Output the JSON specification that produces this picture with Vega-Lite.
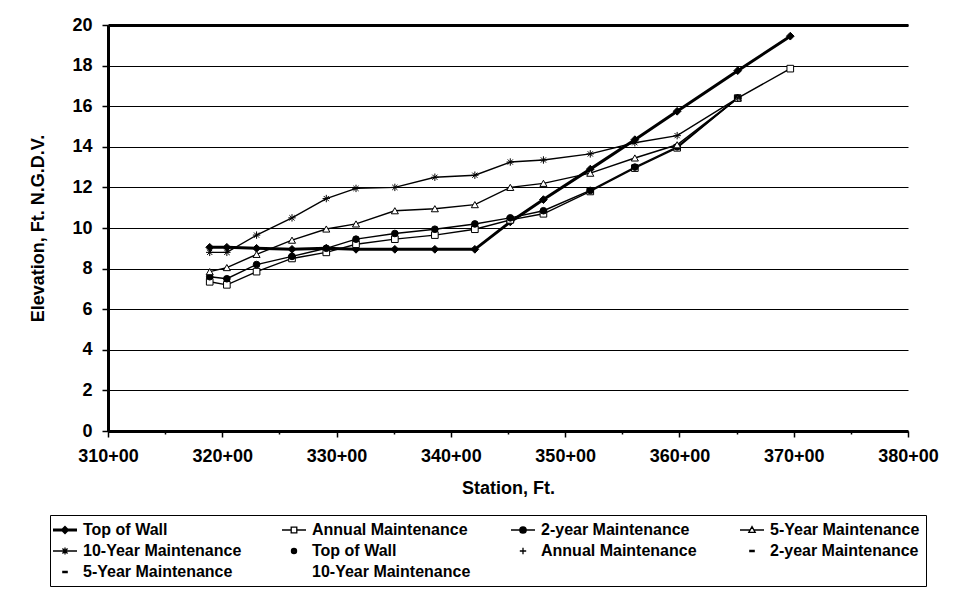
{
  "$schema": "https://vega.github.io/schema/vega-lite/v6.json",
  "width": 800,
  "height": 406,
  "autosize": {"type": "none"},
  "padding": {"left": 108, "top": 25, "right": 45, "bottom": 168},
  "background": "white",
  "config": {
    "font": "Liberation Sans",
    "view": {"stroke": null},
    "axis": {
      "labelFont": "Liberation Sans", "labelFontWeight": "bold", "labelFontSize": 18, "labelColor": "black",
      "titleFont": "Liberation Sans", "titleFontWeight": "bold", "titleFontSize": 18, "titleColor": "black",
      "domainColor": "black", "domainWidth": 3, "tickColor": "black", "tickWidth": 1.5
    },
    "legend": {
      "labelFont": "Liberation Sans", "labelFontSize": 16, "labelFontWeight": "bold", "labelColor": "black",
      "labelLimit": 300, "labelOffset": 9, "symbolSize": 256, "symbolStrokeColor": "black", "symbolStrokeWidth": 1.3,
      "symbolFillColor": "transparent", "symbolOpacity": 1,
      "rowPadding": 4, "padding": 6, "strokeColor": "black", "fillColor": "white"
    }
  },
  "data": {"values": [
    {"station": 318.9, "elevation": 9.05, "series": "Top of Wall"},
    {"station": 320.4, "elevation": 9.05, "series": "Top of Wall"},
    {"station": 323.0, "elevation": 9.0, "series": "Top of Wall"},
    {"station": 326.1, "elevation": 8.95, "series": "Top of Wall"},
    {"station": 329.1, "elevation": 9.0, "series": "Top of Wall"},
    {"station": 331.7, "elevation": 8.95, "series": "Top of Wall"},
    {"station": 335.1, "elevation": 8.95, "series": "Top of Wall"},
    {"station": 338.6, "elevation": 8.95, "series": "Top of Wall"},
    {"station": 342.1, "elevation": 8.95, "series": "Top of Wall"},
    {"station": 345.2, "elevation": 10.3, "series": "Top of Wall"},
    {"station": 348.1, "elevation": 11.4, "series": "Top of Wall"},
    {"station": 352.2, "elevation": 12.9, "series": "Top of Wall"},
    {"station": 356.1, "elevation": 14.35, "series": "Top of Wall"},
    {"station": 359.8, "elevation": 15.75, "series": "Top of Wall"},
    {"station": 365.1, "elevation": 17.75, "series": "Top of Wall"},
    {"station": 369.7, "elevation": 19.45, "series": "Top of Wall"},

    {"station": 318.9, "elevation": 7.35, "series": "Annual Maintenance"},
    {"station": 320.4, "elevation": 7.2, "series": "Annual Maintenance"},
    {"station": 323.0, "elevation": 7.85, "series": "Annual Maintenance"},
    {"station": 326.1, "elevation": 8.5, "series": "Annual Maintenance"},
    {"station": 329.1, "elevation": 8.8, "series": "Annual Maintenance"},
    {"station": 331.7, "elevation": 9.2, "series": "Annual Maintenance"},
    {"station": 335.1, "elevation": 9.45, "series": "Annual Maintenance"},
    {"station": 338.6, "elevation": 9.65, "series": "Annual Maintenance"},
    {"station": 342.1, "elevation": 9.94, "series": "Annual Maintenance"},
    {"station": 345.2, "elevation": 10.4, "series": "Annual Maintenance"},
    {"station": 348.1, "elevation": 10.7, "series": "Annual Maintenance"},
    {"station": 352.2, "elevation": 11.8, "series": "Annual Maintenance"},
    {"station": 356.1, "elevation": 12.95, "series": "Annual Maintenance"},
    {"station": 359.8, "elevation": 13.95, "series": "Annual Maintenance"},
    {"station": 365.1, "elevation": 16.4, "series": "Annual Maintenance"},
    {"station": 369.7, "elevation": 17.85, "series": "Annual Maintenance"},

    {"station": 318.9, "elevation": 7.6, "series": "2-year Maintenance"},
    {"station": 320.4, "elevation": 7.5, "series": "2-year Maintenance"},
    {"station": 323.0, "elevation": 8.2, "series": "2-year Maintenance"},
    {"station": 326.1, "elevation": 8.6, "series": "2-year Maintenance"},
    {"station": 329.1, "elevation": 9.0, "series": "2-year Maintenance"},
    {"station": 331.7, "elevation": 9.45, "series": "2-year Maintenance"},
    {"station": 335.1, "elevation": 9.73, "series": "2-year Maintenance"},
    {"station": 338.6, "elevation": 9.94, "series": "2-year Maintenance"},
    {"station": 342.1, "elevation": 10.2, "series": "2-year Maintenance"},
    {"station": 345.2, "elevation": 10.5, "series": "2-year Maintenance"},
    {"station": 348.1, "elevation": 10.85, "series": "2-year Maintenance"},
    {"station": 352.2, "elevation": 11.85, "series": "2-year Maintenance"},
    {"station": 356.1, "elevation": 13.0, "series": "2-year Maintenance"},
    {"station": 359.8, "elevation": 14.0, "series": "2-year Maintenance"},
    {"station": 365.1, "elevation": 16.4, "series": "2-year Maintenance"},

    {"station": 318.9, "elevation": 7.85, "series": "5-Year Maintenance"},
    {"station": 320.4, "elevation": 8.05, "series": "5-Year Maintenance"},
    {"station": 323.0, "elevation": 8.7, "series": "5-Year Maintenance"},
    {"station": 326.1, "elevation": 9.4, "series": "5-Year Maintenance"},
    {"station": 329.1, "elevation": 9.95, "series": "5-Year Maintenance"},
    {"station": 331.7, "elevation": 10.2, "series": "5-Year Maintenance"},
    {"station": 335.1, "elevation": 10.85, "series": "5-Year Maintenance"},
    {"station": 338.6, "elevation": 10.95, "series": "5-Year Maintenance"},
    {"station": 342.1, "elevation": 11.15, "series": "5-Year Maintenance"},
    {"station": 345.2, "elevation": 12.0, "series": "5-Year Maintenance"},
    {"station": 348.1, "elevation": 12.2, "series": "5-Year Maintenance"},
    {"station": 352.2, "elevation": 12.7, "series": "5-Year Maintenance"},
    {"station": 356.1, "elevation": 13.45, "series": "5-Year Maintenance"},
    {"station": 359.8, "elevation": 14.1, "series": "5-Year Maintenance"},
    {"station": 365.1, "elevation": 16.4, "series": "5-Year Maintenance"},

    {"station": 318.9, "elevation": 8.8, "series": "10-Year Maintenance"},
    {"station": 320.4, "elevation": 8.8, "series": "10-Year Maintenance"},
    {"station": 323.0, "elevation": 9.65, "series": "10-Year Maintenance"},
    {"station": 326.1, "elevation": 10.5, "series": "10-Year Maintenance"},
    {"station": 329.1, "elevation": 11.45, "series": "10-Year Maintenance"},
    {"station": 331.7, "elevation": 11.95, "series": "10-Year Maintenance"},
    {"station": 335.1, "elevation": 12.0, "series": "10-Year Maintenance"},
    {"station": 338.6, "elevation": 12.5, "series": "10-Year Maintenance"},
    {"station": 342.1, "elevation": 12.6, "series": "10-Year Maintenance"},
    {"station": 345.2, "elevation": 13.25, "series": "10-Year Maintenance"},
    {"station": 348.1, "elevation": 13.35, "series": "10-Year Maintenance"},
    {"station": 352.2, "elevation": 13.65, "series": "10-Year Maintenance"},
    {"station": 356.1, "elevation": 14.2, "series": "10-Year Maintenance"},
    {"station": 359.8, "elevation": 14.55, "series": "10-Year Maintenance"},
    {"station": 365.1, "elevation": 16.4, "series": "10-Year Maintenance"}
  ]},
  "resolve": {
    "scale": {"shape": "independent"},
    "legend": {"shape": "independent"},
    "axis": {"x": "independent"}
  },
  "layer": [
    {
      "mark": {"type": "line", "color": "black"},
      "encoding": {
        "x": {
          "field": "station", "type": "quantitative",
          "scale": {"domain": [310, 380], "nice": false, "zero": false},
          "axis": {
            "title": "Station, Ft.",
            "values": [310, 315, 320, 325, 330, 335, 340, 345, 350, 355, 360, 365, 370, 375, 380],
            "labelExpr": "datum.value % 10 === 0 ? datum.value + '+00' : ''",
            "labelOverlap": false, "labelFlush": false, "grid": false,
            "tickSize": {"condition": {"test": "datum.value % 10 !== 0", "value": 3}, "value": 6},
            "labelPadding": 10, "titlePadding": 14
          }
        },
        "y": {
          "field": "elevation", "type": "quantitative",
          "scale": {"domain": [0, 20], "nice": false},
          "axis": {
            "title": "Elevation, Ft. N.G.D.V.",
            "values": [0, 1, 2, 3, 4, 5, 6, 7, 8, 9, 10, 11, 12, 13, 14, 15, 16, 17, 18, 19, 20],
            "labelExpr": "datum.value % 2 === 0 ? datum.value : ''",
            "labelOverlap": false, "labelFlush": false,
            "grid": true, "gridColor": "black",
            "gridOpacity": {"condition": {"test": "datum.value % 2 === 1", "value": 0}, "value": 1},
            "tickSize": {"condition": {"test": "datum.value % 2 === 1", "value": 3}, "value": 6},
            "labelPadding": 10, "titlePadding": 24
          }
        },
        "detail": {"field": "series", "type": "nominal"},
        "strokeWidth": {"condition": {"test": "datum.series === 'Top of Wall'", "value": 3}, "value": 1.4}
      }
    },
    {
      "mark": {"type": "point", "filled": true, "stroke": "black", "strokeWidth": 1, "opacity": 1},
      "encoding": {
        "x": {
          "field": "station", "type": "quantitative",
          "axis": {"orient": "top", "title": null, "labels": false, "ticks": false, "grid": false, "domain": true, "domainWidth": 3}
        },
        "y": {"field": "elevation", "type": "quantitative"},
        "shape": {
          "field": "series", "type": "nominal",
          "scale": {
            "domain": ["Top of Wall", "Annual Maintenance", "2-year Maintenance", "5-Year Maintenance", "10-Year Maintenance"],
            "range": ["diamond", "square", "circle", "triangle-up", "M-1,0L1,0M0,-1L0,1M-0.7,-0.7L0.7,0.7M-0.7,0.7L0.7,-0.7"]
          },
          "legend": null
        },
        "fill": {
          "condition": {"test": "datum.series === 'Annual Maintenance' || datum.series === '5-Year Maintenance'", "value": "white"},
          "value": "black"
        },
        "size": {
          "condition": [
            {"test": "datum.series === 'Top of Wall'", "value": 60},
            {"test": "datum.series === '10-Year Maintenance'", "value": 55},
            {"test": "datum.series === '5-Year Maintenance'", "value": 50}
          ],
          "value": 44
        }
      }
    },
    {
      "mark": {"type": "point", "filled": false, "color": "black", "strokeWidth": 1.3, "opacity": 0},
      "encoding": {
        "x": {"field": "station", "type": "quantitative", "axis": null},
        "y": {"field": "elevation", "type": "quantitative"},
        "shape": {
          "field": "series", "type": "nominal",
          "scale": {
            "domain": ["Top of Wall", "Annual Maintenance", "2-year Maintenance", "5-Year Maintenance", "10-Year Maintenance", "Top of Wall ", "Annual Maintenance ", "2-year Maintenance ", "5-Year Maintenance ", "10-Year Maintenance "],
            "range": [
              "M-1.5,-0.1H1.5M-1.5,0H1.5M-1.5,0.1H1.5M0,-0.45L0.45,0L0,0.45L-0.45,0ZM0,-0.3L0.3,0L0,0.3L-0.3,0ZM0,-0.15L0.15,0L0,0.15L-0.15,0Z",
              "M-1.5,0H-0.35M0.35,0H1.5M-0.35,-0.35H0.35V0.35H-0.35Z",
              "M-1.5,0H1.5M0.4,0A0.4,0.4,0,1,1,-0.4,0A0.4,0.4,0,1,1,0.4,0ZM0.25,0A0.25,0.25,0,1,1,-0.25,0A0.25,0.25,0,1,1,0.25,0ZM0.1,0A0.1,0.1,0,1,1,-0.1,0A0.1,0.1,0,1,1,0.1,0Z",
              "M-1.5,0H-0.3M0.3,0H1.5M0,-0.42L0.4,0.3H-0.4Z",
              "M-1.5,0H1.5M0,-0.45V0.45M-0.32,-0.32L0.32,0.32M-0.32,0.32L0.32,-0.32",
              "M0.32,0A0.32,0.32,0,1,1,-0.32,0A0.32,0.32,0,1,1,0.32,0ZM0.18,0A0.18,0.18,0,1,1,-0.18,0A0.18,0.18,0,1,1,0.18,0ZM0.06,0A0.06,0.06,0,1,1,-0.06,0A0.06,0.06,0,1,1,0.06,0Z",
              "M-0.4,0H0.4M0,-0.4V0.4",
              "M-0.35,-0.08H0.35M-0.35,0H0.35M-0.35,0.08H0.35",
              "M-0.35,-0.08H0.35M-0.35,0H0.35M-0.35,0.08H0.35",
              "M0,0Z"
            ]
          },
          "legend": {
            "title": null, "orient": "none", "legendX": -58, "legendY": 490,
            "columns": 4, "gridAlign": "all", "columnPadding": 37,
            "values": ["Top of Wall", "10-Year Maintenance", "2-year Maintenance ", "Annual Maintenance", "Top of Wall ", "5-Year Maintenance ", "2-year Maintenance", "Annual Maintenance ", "10-Year Maintenance ", "5-Year Maintenance"]
          }
        }
      }
    }
  ]
}
